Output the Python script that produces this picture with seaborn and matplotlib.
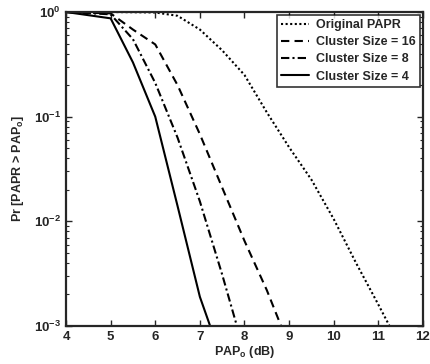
import matplotlib
matplotlib.use("Agg")
import matplotlib.pyplot as plt
import matplotlib.ticker as mticker
import seaborn as sns
import pandas as pd

# PAPR CCDF values
pap_orig = [4, 5, 6, 6.5, 7, 7.5, 8, 8.5, 9, 9.5, 10, 10.5, 11, 11.25]
ccdf_orig = [1.0, 1.0, 0.99, 0.92, 0.68, 0.43, 0.25, 0.11, 0.051, 0.025, 0.0105, 0.004, 0.0016, 0.001]

pap_16 = [4, 5, 5.5, 6, 6.5, 7, 7.5, 8, 8.5, 8.82]
ccdf_16 = [1.0, 0.97, 0.68, 0.49, 0.2, 0.068, 0.021, 0.0065, 0.0022, 0.001]

pap_8 = [4, 5, 5.5, 6, 6.5, 7, 7.5, 7.83]
ccdf_8 = [1.0, 0.95, 0.55, 0.21, 0.063, 0.0155, 0.0031, 0.001]

pap_4 = [4, 5, 5.5, 6, 6.5, 7, 7.23]
ccdf_4 = [1.0, 0.87, 0.33, 0.1, 0.014, 0.0019, 0.001]

series = [
    ("Original PAPR", pap_orig, ccdf_orig, (0, (1, 1.2))),
    ("Cluster Size = 16", pap_16, ccdf_16, (0, (4, 2.5))),
    ("Cluster Size = 8", pap_8, ccdf_8, (0, (4, 1.5, 1, 1.5))),
    ("Cluster Size = 4", pap_4, ccdf_4, "-"),
]

sns.set_style("ticks")
plt.rcParams['font.family'] = ['Liberation Sans', 'DejaVu Sans']
plt.rcParams['font.weight'] = 'bold'
plt.rcParams['mathtext.default'] = 'bf'

fig = plt.figure(figsize=(4.3, 3.64), dpi=100)
ax = fig.add_axes([0.1535, 0.1044, 0.8302, 0.8626])

for name, xs, ys, ls in series:
    df = pd.DataFrame({"pap": xs, "ccdf": ys})
    sns.lineplot(data=df, x="pap", y="ccdf", ax=ax, color="black",
                 linestyle=ls, linewidth=1.5, label=name)

ax.set_yscale("log")
ax.set_xlim(4, 12)
ax.set_ylim(1e-3, 1)
ax.set_xticks(range(4, 13))
ax.yaxis.set_major_locator(mticker.LogLocator(base=10, numticks=5))
ax.yaxis.set_minor_locator(mticker.LogLocator(base=10, subs=range(2, 10), numticks=20))
ax.yaxis.set_minor_formatter(mticker.NullFormatter())

ax.tick_params(which="both", direction="in", top=True, right=True, labelsize=9.5)
ax.tick_params(which="major", length=4, width=1)
ax.tick_params(which="minor", length=2, width=0.8)
for lbl in ax.get_xticklabels() + ax.get_yticklabels():
    lbl.set_fontweight("bold")
for sp in ax.spines.values():
    sp.set_linewidth(1.6)

ax.set_xlabel(r"PAP$_\mathregular{o}$ (dB)", fontsize=9, fontweight="bold", labelpad=1)
ax.set_ylabel(r"Pr [PAPR > PAP$_\mathregular{o}$]", fontsize=9, fontweight="bold", labelpad=6)

leg = ax.legend(loc="upper right", fontsize=9, frameon=True, fancybox=False,
                edgecolor="black", handlelength=2.2, borderpad=0.35,
                labelspacing=0.42, handletextpad=0.6, borderaxespad=0.2)
leg.get_frame().set_linewidth(1.2)
for t in leg.get_texts():
    t.set_fontweight("bold")

fig.savefig("out.png", dpi=100)
